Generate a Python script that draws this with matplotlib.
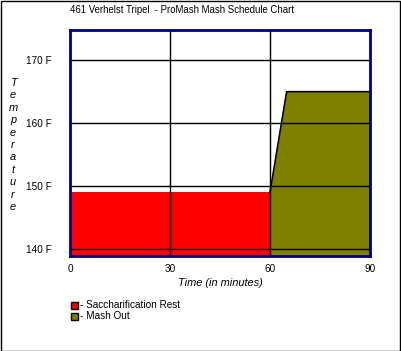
import matplotlib
matplotlib.use("Agg")
import matplotlib.pyplot as plt
from matplotlib.patches import Rectangle

# Mash schedule data (minutes, deg F)
sacch_time = [0, 60]
sacch_temp = [149, 149]
mashout_time = [60, 65, 90]
mashout_temp = [149, 165, 165]

x_ticks = [0, 30, 60, 90]
y_ticks = [140, 150, 160, 170]
y_labels = ["140 F", "150 F", "160 F", "170 F"]

title = "461 Verhelst Tripel  - ProMash Mash Schedule Chart"
legend_items = [("Saccharification Rest", "#ff0000"), ("Mash Out", "#808000")]

plt.rcParams['font.family'] = ['Liberation Sans', 'DejaVu Sans']
FS = 6.9

W, H = 401, 351
fig = plt.figure(figsize=(W / 100, H / 100), dpi=100)
fig.patch.set_facecolor("white")
fig.patches.append(Rectangle((0.5 / W, 0.5 / H), (W - 1.5) / W, (H - 1.5) / H,
                             transform=fig.transFigure, fill=False,
                             edgecolor="black", linewidth=1))

ax = fig.add_axes([70 / W, (H - 256) / H, 300 / W, 226 / H])
ymin, ymax = 138.9, 174.8
ax.set_xlim(0, 90)
ax.set_ylim(ymin, ymax)

ax.fill_between(sacch_time, ymin, sacch_temp, color="#ff0000", linewidth=0, zorder=1)
ax.fill_between(mashout_time, ymin, mashout_temp, color="#808000", linewidth=0, zorder=1)
ax.plot(mashout_time, mashout_temp, color="black", linewidth=1.2, zorder=3)

for x in x_ticks[1:-1]:
    ax.axvline(x, color="black", linewidth=1, zorder=2)
for y in y_ticks:
    ax.axhline(y, color="black", linewidth=1, zorder=2)

for s in ax.spines.values():
    s.set_color("#000080")
    s.set_linewidth(2)
    s.set_zorder(4)

ax.set_xticks(x_ticks)
ax.set_yticks(y_ticks)
ax.set_yticklabels(y_labels)
ax.tick_params(length=0, labelsize=FS + 0.3)
ax.tick_params(axis="y", pad=13)
ax.tick_params(axis="x", pad=6)
ax.set_xlabel("Time (in minutes)", fontsize=FS + 1, style="italic", labelpad=3)

fig.text(70 / W, 1 - 10 / H, title, fontsize=FS, ha="left", va="center")
fig.text(13 / W, 1 - 145 / H, "\n".join("Temperature"), fontsize=FS + 1,
         style="italic", ha="center", va="center", linespacing=1.3)

for i, (name, col) in enumerate(legend_items):
    yc = 305.5 + i * 10.5
    fig.patches.append(Rectangle((70.5 / W, 1 - (yc + 3.5) / H), 7 / W, 7 / H,
                                 transform=fig.transFigure, facecolor=col,
                                 edgecolor="black", linewidth=1))
    fig.text(80 / W, 1 - yc / H, "- " + name, fontsize=FS + 0.3, ha="left", va="center")

fig.savefig("out.png", dpi=100)
